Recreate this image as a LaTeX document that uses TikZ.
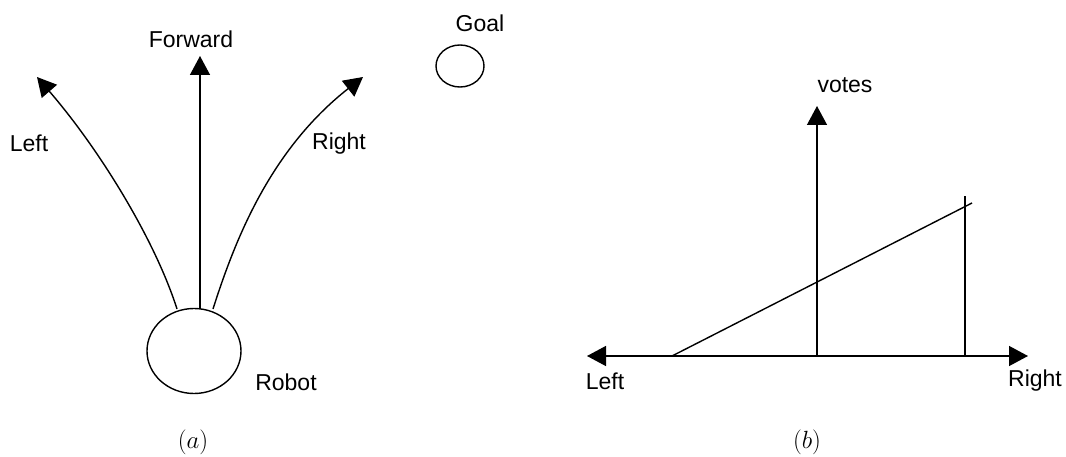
\documentclass[tikz,border=0pt]{standalone}
\usepackage{fontspec}
\setsansfont{Liberation Sans}
\usetikzlibrary{arrows.meta,shapes.geometric}
\begin{document}
\begin{tikzpicture}[x=1pt,y=-1pt,
  line width=1.4pt,
  lbl/.style={font=\fontsize{23}{26}\sffamily\selectfont, inner sep=0pt},
  figcap/.style={font=\fontsize{27}{30}\selectfont, inner sep=0pt},
  blob/.style={draw, ellipse, inner sep=0pt},
  arrtip/.style={-{Triangle[length=19pt,width=20pt]}}]
\useasboundingbox (0,0) rectangle (1066,457);
% (a)
\node[blob, minimum width=94pt, minimum height=85pt] (robot) at (194,351) {};
\node[blob, minimum width=48pt, minimum height=42pt] (goal) at (460,66) {};
\coordinate (sl) at (177,309);
\coordinate (sf) at (200,309);
\coordinate (sr) at (213,309);
\coordinate (tl) at (37,77);
\coordinate (tf) at (200,56);
\coordinate (tr) at (363,77);
\draw[arrtip] (sf) -- (tf);
\draw[arrtip] (sl) .. controls (155,240) and (100,150) .. (tl);
\draw[arrtip] (sr) .. controls (235,240) and (270,150) .. (tr);
\node[lbl] (lfw) at (191,39) {Forward};
\node[lbl] (lleft) at (29,143) {Left};
\node[lbl] (lright) at (339,144) {Right};
\node[lbl] (lrobot) at (286,382) {Robot};
\node[lbl] (lgoal) at (480,23) {Goal};
\node[figcap] (ca) at (193,442) {$(a)$};
% (b)
\coordinate (o) at (817,356);
\coordinate (xl) at (587,356);
\coordinate (xr) at (1028,356);
\coordinate (yt) at (817,106);
\draw[arrtip] (o) -- (xl);
\draw[arrtip] (o) -- (xr);
\draw[arrtip] (o) -- (yt);
\coordinate (s0) at (672,356);
\coordinate (s1) at (972,203);
\draw (s0) -- (s1);
\coordinate (v0) at (965,356);
\coordinate (v1) at (965,196);
\draw (v0) -- (v1);
\node[lbl] (lvotes) at (845,85) {votes};
\node[lbl] (lbl) at (605,381) {Left};
\node[lbl] (lbr) at (1035,381) {Right};
\node[figcap] (cb) at (807,442) {$(b)$};
\end{tikzpicture}
\end{document}
